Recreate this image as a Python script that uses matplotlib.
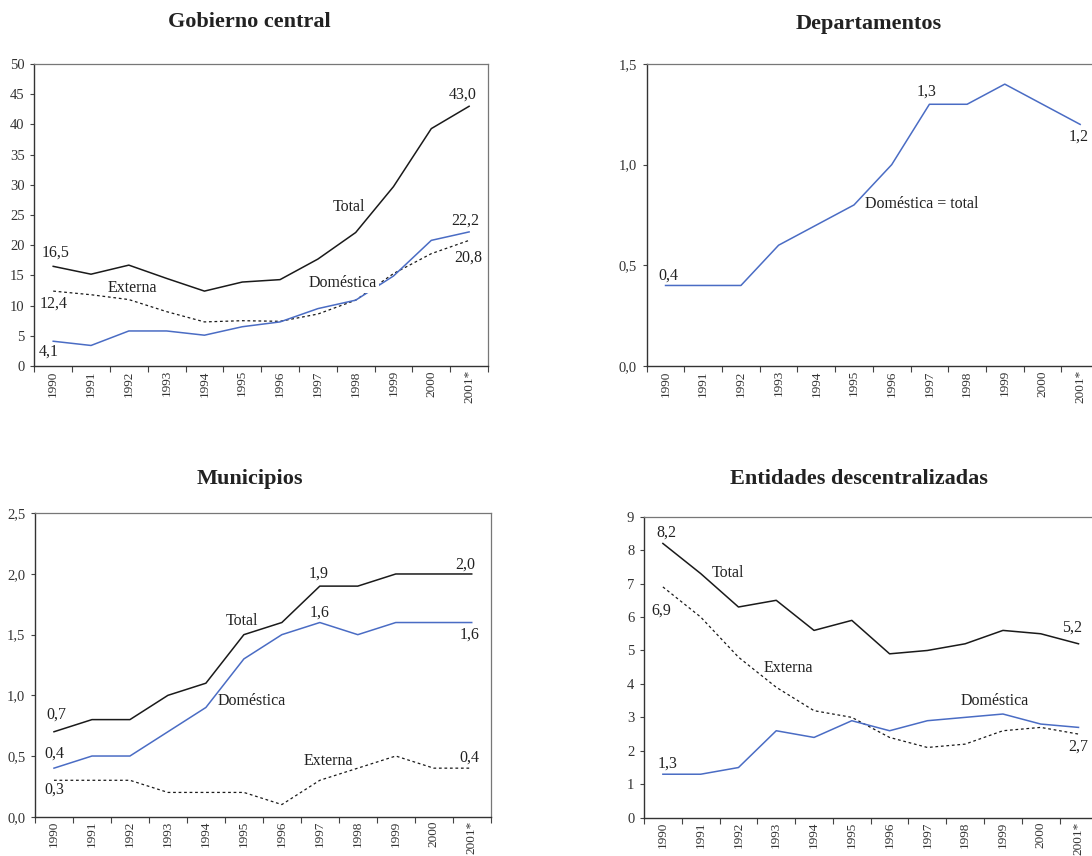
import matplotlib.pyplot as plt
from matplotlib.ticker import FixedLocator, FuncFormatter

# Data
years = ["1990", "1991", "1992", "1993", "1994", "1995", "1996", "1997",
         "1998", "1999", "2000", "2001*"]

gc_total = [16.5, 15.2, 16.7, 14.5, 12.4, 13.9, 14.3, 17.7, 22.1, 29.7, 39.3, 43.0]
gc_externa = [12.4, 11.8, 11.0, 9.0, 7.3, 7.5, 7.4, 8.6, 10.9, 15.3, 18.6, 20.8]
gc_domestica = [4.1, 3.4, 5.8, 5.8, 5.1, 6.5, 7.3, 9.5, 10.9, 14.9, 20.8, 22.2]

dep_domestica = [0.4, 0.4, 0.4, 0.6, 0.7, 0.8, 1.0, 1.3, 1.3, 1.4, 1.3, 1.2]

mun_total = [0.7, 0.8, 0.8, 1.0, 1.1, 1.5, 1.6, 1.9, 1.9, 2.0, 2.0, 2.0]
mun_domestica = [0.4, 0.5, 0.5, 0.7, 0.9, 1.3, 1.5, 1.6, 1.5, 1.6, 1.6, 1.6]
mun_externa = [0.3, 0.3, 0.3, 0.2, 0.2, 0.2, 0.1, 0.3, 0.4, 0.5, 0.4, 0.4]

ent_total = [8.2, 7.3, 6.3, 6.5, 5.6, 5.9, 4.9, 5.0, 5.2, 5.6, 5.5, 5.2]
ent_externa = [6.9, 6.0, 4.8, 3.9, 3.2, 3.0, 2.4, 2.1, 2.2, 2.6, 2.7, 2.5]
ent_domestica = [1.3, 1.3, 1.5, 2.6, 2.4, 2.9, 2.6, 2.9, 3.0, 3.1, 2.8, 2.7]

FONT = "Liberation Serif"
BLUE = "#4a6cc4"
BLACK = "#1a1a1a"
W, H = 1092, 856

plt.rcParams["font.family"] = FONT

fig = plt.figure(figsize=(W / 100, H / 100), dpi=100)


def make_axes(left, top, right, bottom, ymax, ystep, decimals):
    ax = fig.add_axes([left / W, 1 - bottom / H, (right - left) / W, (bottom - top) / H])
    ax.set_xlim(-0.5, len(years) - 0.5)
    ax.set_ylim(0, ymax)
    # category labels at centres, tick marks at boundaries
    ax.set_xticks(range(len(years)))
    ax.set_xticklabels(years, rotation=90, fontsize=9.5, color="#333333")
    ax.tick_params(axis="x", which="major", length=0, pad=3)
    ax.xaxis.set_minor_locator(FixedLocator([i - 0.5 for i in range(len(years) + 1)]))
    ax.tick_params(axis="x", which="minor", length=4, width=0.8, color="#444444")
    yt = [ystep * k for k in range(int(round(ymax / ystep)) + 1)]
    ax.yaxis.set_major_locator(FixedLocator(yt))
    if decimals:
        ax.yaxis.set_major_formatter(FuncFormatter(lambda v, p: f"{v:.1f}".replace(".", ",")))
    else:
        ax.yaxis.set_major_formatter(FuncFormatter(lambda v, p: f"{v:.0f}"))
    ax.tick_params(axis="y", length=3, width=0.8, color="#444444", pad=4,
                   labelsize=10.5, labelcolor="#333333")
    for s in ["left", "bottom"]:
        ax.spines[s].set_color("#333333")
        ax.spines[s].set_linewidth(1.0)
    for s in ["top", "right"]:
        ax.spines[s].set_color("#777777")
        ax.spines[s].set_linewidth(0.9)
    return ax


def lbl(ax, x, y, s, ha="center", box=False):
    kw = {}
    if box:
        kw["bbox"] = dict(facecolor="white", edgecolor="none", pad=1.5)
    ax.text(x, y, s, ha=ha, va="center", fontsize=11.5, color="#222222", **kw)


x = range(len(years))
dash = (0, (2.2, 2.2))

# Gobierno central
ax1 = make_axes(34.3, 64, 488, 366, 50, 5, False)
ax1.plot(x, gc_externa, color=BLACK, lw=0.9, ls=dash)
ax1.plot(x, gc_domestica, color=BLUE, lw=1.1)
ax1.plot(x, gc_total, color=BLACK, lw=1.1)
lbl(ax1, 0.05, 18.7, "16,5")
lbl(ax1, 0.02, 10.3, "12,4")
lbl(ax1, -0.11, 2.3, "4,1")
lbl(ax1, 2.08, 12.9, "Externa")
lbl(ax1, 7.82, 26.3, "Total")
lbl(ax1, 7.66, 13.7, "Doméstica", box=True)
lbl(ax1, 10.84, 44.9, "43,0")
lbl(ax1, 10.89, 24.0, "22,2")
lbl(ax1, 10.97, 17.9, "20,8")

# Departamentos (extends past the right edge, as in the source)
ax2 = make_axes(646.7, 64, 1099, 366, 1.5, 0.5, True)
ax2.plot(x, dep_domestica, color=BLUE, lw=1.1)
lbl(ax2, 0.07, 0.447, "0,4")
lbl(ax2, 6.93, 1.361, "1,3")
lbl(ax2, 5.29, 0.805, "Doméstica = total", ha="left")
lbl(ax2, 10.97, 1.138, "1,2")

# Municipios
ax3 = make_axes(35, 513.3, 490.7, 816.7, 2.5, 0.5, True)
ax3.plot(x, mun_externa, color=BLACK, lw=0.9, ls=dash)
ax3.plot(x, mun_domestica, color=BLUE, lw=1.1)
ax3.plot(x, mun_total, color=BLACK, lw=1.1)
lbl(ax3, 0.07, 0.84, "0,7")
lbl(ax3, 0.01, 0.52, "0,4")
lbl(ax3, 0.01, 0.22, "0,3")
lbl(ax3, 4.96, 1.61, "Total")
lbl(ax3, 5.22, 0.95, "Doméstica")
lbl(ax3, 7.22, 0.46, "Externa")
lbl(ax3, 6.96, 2.0, "1,9")
lbl(ax3, 7.0, 1.68, "1,6")
lbl(ax3, 10.82, 2.08, "2,0")
lbl(ax3, 10.95, 1.50, "1,6")
lbl(ax3, 10.95, 0.49, "0,4")

# Entidades descentralizadas
ax4 = make_axes(644, 516.7, 1097.4, 817.7, 9, 1, False)
ax4.plot(x, ent_externa, color=BLACK, lw=0.9, ls=dash)
ax4.plot(x, ent_domestica, color=BLUE, lw=1.1)
ax4.plot(x, ent_total, color=BLACK, lw=1.1)
lbl(ax4, 0.10, 8.53, "8,2")
lbl(ax4, 1.73, 7.33, "Total")
lbl(ax4, -0.03, 6.18, "6,9")
lbl(ax4, 3.32, 4.49, "Externa")
lbl(ax4, 8.77, 3.50, "Doméstica")
lbl(ax4, 0.13, 1.63, "1,3")
lbl(ax4, 10.82, 5.68, "5,2")
lbl(ax4, 11.0, 2.12, "2,7")

# Panel titles
for tx, ty, t in [(249, 22, "Gobierno central"), (869, 24, "Departamentos"),
                  (250, 479, "Municipios"), (859, 479, "Entidades descentralizadas")]:
    fig.text(tx / W, 1 - ty / H, t, ha="center", va="center", fontsize=16,
             fontweight="bold", color="#222222")

fig.savefig("out.png", dpi=100)
